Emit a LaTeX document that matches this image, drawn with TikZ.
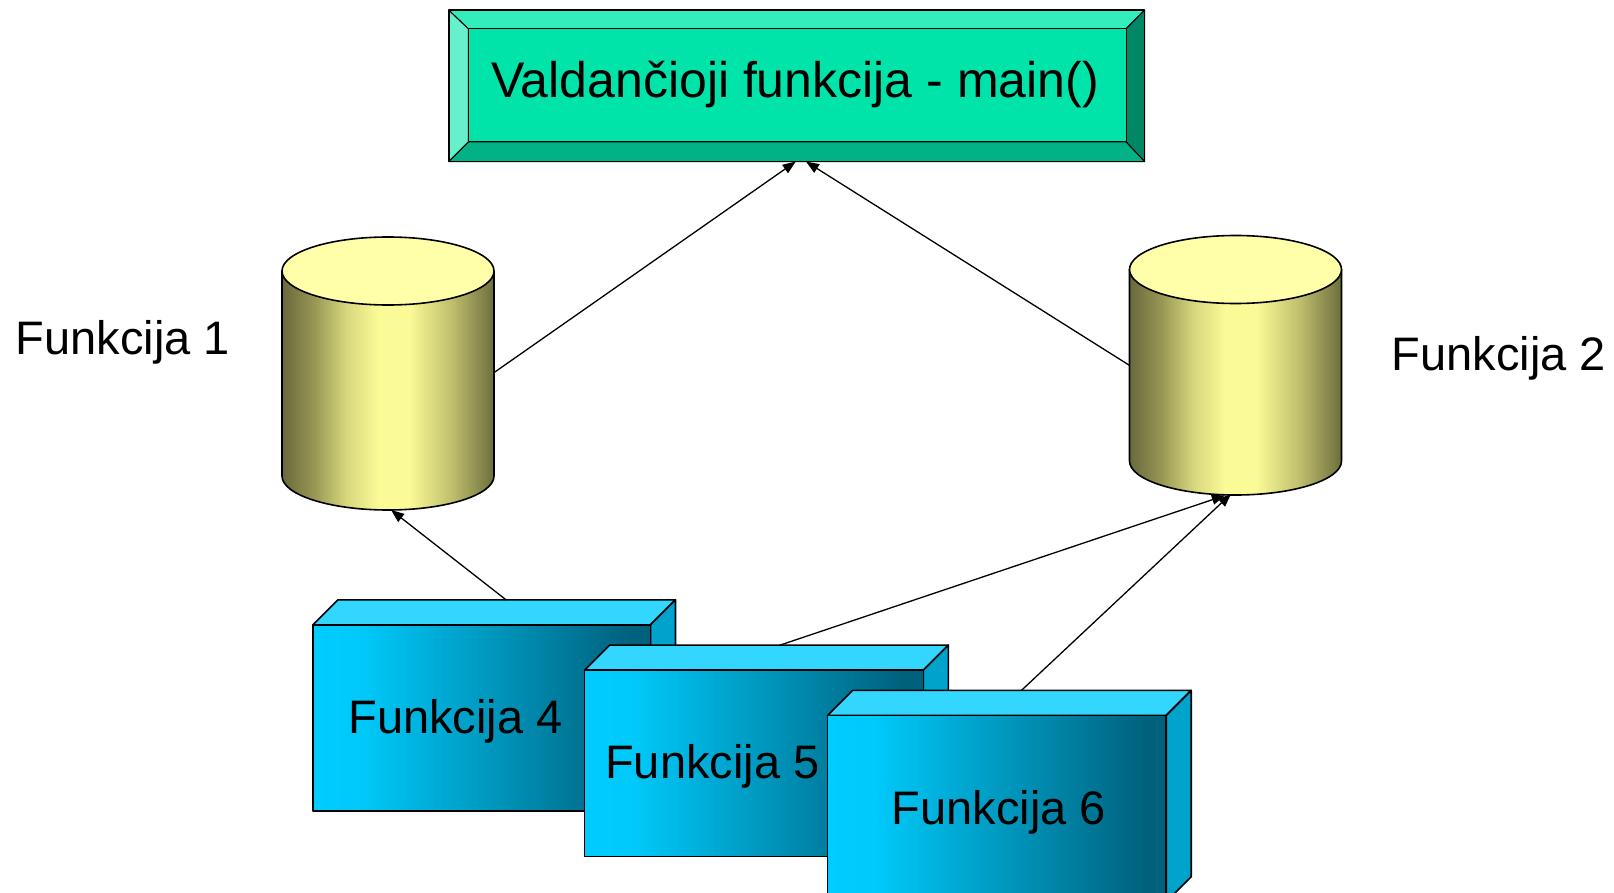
\documentclass[tikz,border=0pt]{standalone}
\usepackage{fontspec}
\setmainfont{Liberation Sans}
\usetikzlibrary{arrows.meta}
\definecolor{mainface}{RGB}{0,228,170}
\definecolor{bevtop}{RGB}{51,238,187}
\definecolor{bevleft}{RGB}{102,240,204}
\definecolor{bevright}{RGB}{0,136,102}
\definecolor{bevbot}{RGB}{0,178,134}
\definecolor{cyltopc}{RGB}{255,255,170}
\definecolor{boxtopc}{RGB}{51,214,255}
\definecolor{boxright}{RGB}{0,163,204}
\pgfdeclarehorizontalshading{cylsh}{100bp}{%
  rgb(0bp)=(0.41,0.41,0.24); rgb(25bp)=(0.41,0.41,0.24);
  rgb(32.5bp)=(0.59,0.59,0.33); rgb(40bp)=(0.84,0.84,0.49);
  rgb(47.5bp)=(0.98,0.98,0.59); rgb(55bp)=(0.98,0.98,0.59);
  rgb(65bp)=(0.75,0.75,0.43); rgb(75bp)=(0.43,0.43,0.24);
  rgb(100bp)=(0.43,0.43,0.24)}
\pgfdeclarehorizontalshading{boxsh}{100bp}{%
  rgb(0bp)=(0,0.8,1); rgb(25bp)=(0,0.8,1); rgb(32bp)=(0,0.79,0.98);
  rgb(72bp)=(0,0.38,0.49); rgb(100bp)=(0,0.38,0.49)}
\tikzset{
  outl/.style={draw=black, line width=1.6pt, line join=round},
  thinl/.style={draw=black, line width=1pt, line join=round},
  cylside/.style={outl, shading=cylsh},
  cyltop/.style={outl, fill=cyltopc},
  boxfront/.style={outl, shading=boxsh},
  boxtop/.style={outl, fill=boxtopc},
  boxside/.style={outl, fill=boxright},
  lbl/.style={inner sep=0pt, font=\fontsize{47}{56}\selectfont},
  conn/.style={draw=black, line width=1.3pt, -{Triangle[length=13pt,width=10pt]}},
}
\newcommand{\mycyl}[3]{% center x, top center y, bottom center y
  \path[cylside] (#1-106,#2) -- (#1-106,#3) arc[start angle=180,end angle=0,x radius=106,y radius=34] -- (#1+106,#2) -- cycle;
  \path[cyltop] (#1,#2) ellipse[x radius=106,y radius=34];
}
\newcommand{\mybox}[4]{% x1 y1 x2 y2 of front face
  \path[boxtop] (#1,#2) -- (#1+25,#2-25) -- (#3+25,#2-25) -- (#3,#2) -- cycle;
  \path[boxside] (#3,#2) -- (#3+25,#2-25) -- (#3+25,#4-25) -- (#3,#4) -- cycle;
  \path[boxfront] (#1,#2) rectangle (#3,#4);
}
\begin{document}
\begin{tikzpicture}[x=1pt,y=-1pt]
\useasboundingbox (0,0) rectangle (1614,893);
\begin{scope}
\clip (0,0) rectangle (1614,893);
% main box with bevel
\path[thinl, fill=bevtop] (448.8,10.3) -- (1144.6,10.3) -- (1126.1,28.8) -- (468.3,28.8) -- cycle;
\path[thinl, fill=bevleft] (448.8,10.3) -- (468.3,28.8) -- (468.3,142.0) -- (448.8,161.6) -- cycle;
\path[thinl, fill=bevright] (1144.6,10.3) -- (1144.6,161.6) -- (1126.1,142.0) -- (1126.1,28.8) -- cycle;
\path[thinl, fill=bevbot] (448.8,161.6) -- (468.3,142.0) -- (1126.1,142.0) -- (1144.6,161.6) -- cycle;
\path[thinl, fill=mainface] (468.3,28.8) rectangle (1126.1,142.0);
\path[outl] (448.8,10.3) rectangle (1144.6,161.6);
\node[lbl, font=\fontsize{50}{60}\selectfont] (main) at (795,84) {Valdančioji funkcija - main()};
% cylinders
\mycyl{388}{271}{476}
\mycyl{1235.5}{269.5}{461}
\node[lbl, anchor=west] (f1) at (15.4,342.6) {Funkcija 1};
\node[lbl, anchor=west] (f2) at (1391.6,358) {Funkcija 2};
% boxes
\mybox{312.9}{624.8}{650.5}{811.1}
\node[lbl] (f4) at (455.5,721) {Funkcija 4};
\mybox{584.6}{670.1}{923.3}{856.4}
\node[lbl] (f5) at (712.3,766) {Funkcija 5};
\mybox{827.6}{715.4}{1166.2}{901.7}
\node[lbl] (f6) at (999,812) {Funkcija 6};
\end{scope}
% connector end points
\coordinate (mainA) at (795.7,161.6);
\coordinate (mainB) at (806,161.6);
\coordinate (c1right) at (494,372.6);
\coordinate (c1bot) at (391.1,510);
\coordinate (c2left) at (1129.5,365.4);
\coordinate (c2botA) at (1224.8,495.5);
\coordinate (c2botB) at (1231,494);
\coordinate (b4top) at (506.4,600.1);
\coordinate (b5top) at (779.2,645.4);
\coordinate (b6top) at (1021.1,690.7);
\draw[conn] (c1right) -- (mainA);
\draw[conn] (c2left) -- (mainB);
\draw[conn] (b4top) -- (c1bot);
\draw[conn] (b5top) -- (c2botA);
\draw[conn] (b6top) -- (c2botB);
\end{tikzpicture}
\end{document}
